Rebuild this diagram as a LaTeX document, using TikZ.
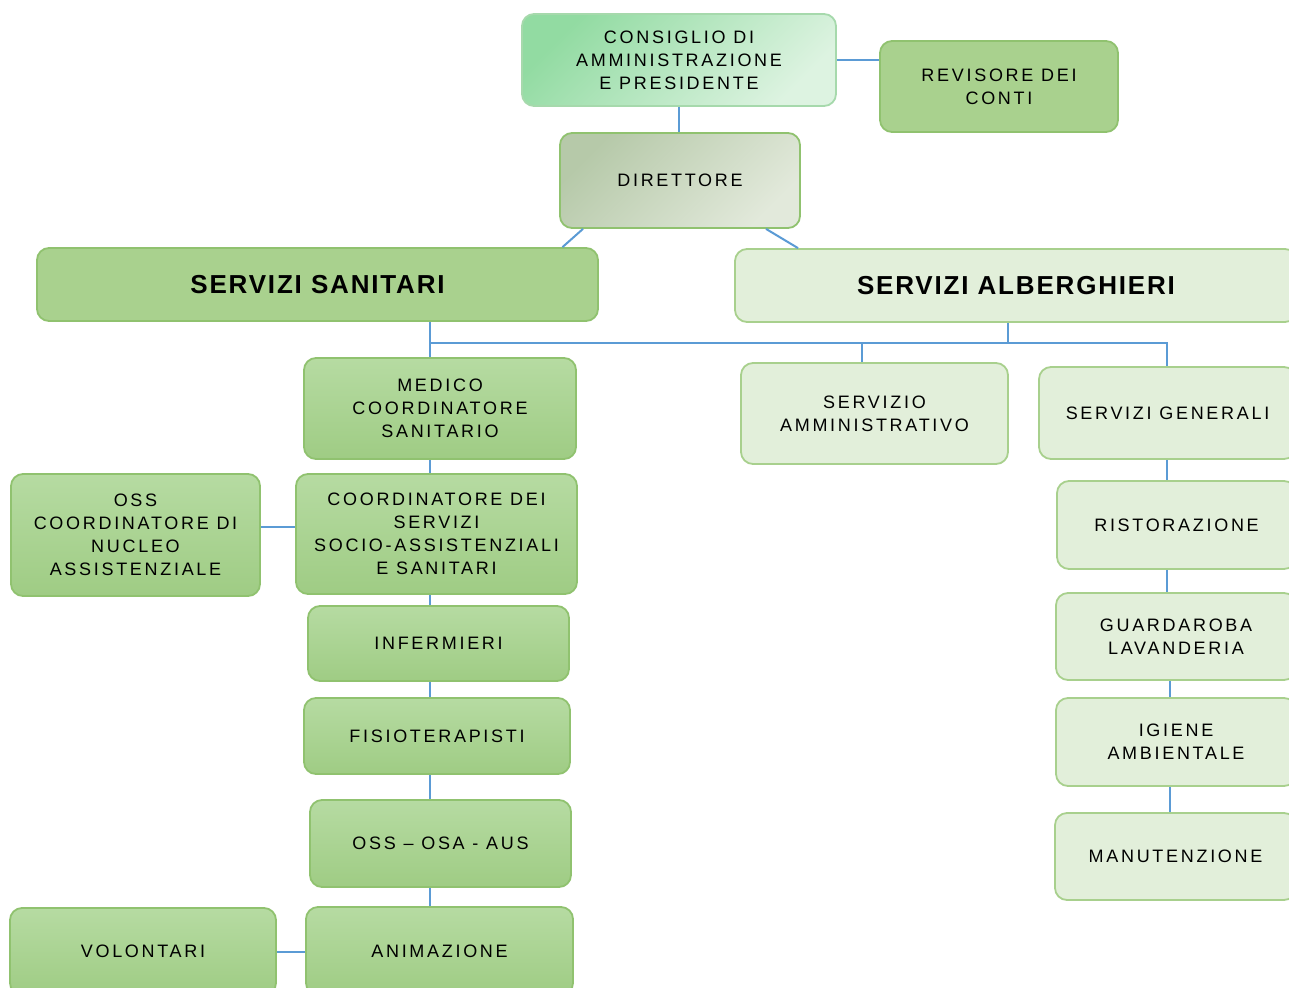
\documentclass[tikz,border=0pt]{standalone}
\usepackage{fontspec}
\setmainfont{Liberation Sans}
\newfontfamily\boxfont[LetterSpace=15]{Liberation Sans}
\newfontfamily\titlefont[LetterSpace=7]{Liberation Sans}
\definecolor{midg}{HTML}{A9D18E}
\definecolor{bord}{HTML}{90C26F}
\definecolor{medtop}{HTML}{B6DBA2}
\definecolor{medbot}{HTML}{9FCC84}
\definecolor{lightg}{HTML}{E2EFDA}
\definecolor{lightbord}{HTML}{A8D08D}
\definecolor{constop}{HTML}{92DBA2}
\definecolor{consbot}{HTML}{DDF3E1}
\definecolor{consbord}{HTML}{A6D9AC}
\definecolor{dirtop}{HTML}{B6C9A9}
\definecolor{dirbot}{HTML}{E2E9DB}
\definecolor{conblue}{HTML}{5B9BD5}
\tikzset{
  box/.style={draw=bord, line width=1.8pt, rounded corners=12pt, align=center,
    inner sep=0pt, font=\boxfont\fontsize{18}{23}\selectfont},
  midbox/.style={box, fill=midg},
  medbox/.style={box, top color=medtop, bottom color=medbot},
  lightbox/.style={box, fill=lightg, draw=lightbord},
  titlebox/.style={font=\titlefont\bfseries\fontsize{26}{30}\selectfont},
  conn/.style={draw=conblue, line width=2pt},
}
\begin{document}
\begin{tikzpicture}[x=1pt,y=-1pt]
\clip (0,0) rectangle (1289,987);
\fill[white] (0,0) rectangle (1289,987);
% top
\node[box, draw=consbord, top color=constop, bottom color=consbot, shading angle=45,
  minimum width=314pt, minimum height=92pt] (cons) at (679,60)
  {CONSIGLIO DI\\AMMINISTRAZIONE\\E PRESIDENTE};
\node[midbox, minimum width=238pt, minimum height=91pt] (rev) at (999,86.5)
  {REVISORE DEI\\CONTI};
\node[box, top color=dirtop, bottom color=dirbot, shading angle=45,
  minimum width=240pt, minimum height=95pt] (dir) at (680,180.5) {DIRETTORE};
\node[midbox, titlebox, minimum width=561pt, minimum height=73pt] (san) at (317.5,284.5)
  {SERVIZI SANITARI};
\node[lightbox, titlebox, minimum width=562pt, minimum height=73pt] (alb) at (1016,285.5)
  {SERVIZI ALBERGHIERI};
% left column
\node[medbox, minimum width=272pt, minimum height=101pt] (med) at (440,408.5)
  {MEDICO\\COORDINATORE\\SANITARIO};
\node[medbox, minimum width=281pt, minimum height=120pt] (coord) at (436.5,534)
  {COORDINATORE DEI\\SERVIZI\\SOCIO-ASSISTENZIALI\\E SANITARI};
\node[medbox, minimum width=249pt, minimum height=122pt] (osscoord) at (135.5,535)
  {OSS\\COORDINATORE DI\\NUCLEO\\ASSISTENZIALE};
\node[medbox, minimum width=261pt, minimum height=75pt] (inf) at (438.5,643.5)
  {INFERMIERI};
\node[medbox, minimum width=266pt, minimum height=76pt] (fis) at (437,736)
  {FISIOTERAPISTI};
\node[medbox, minimum width=261pt, minimum height=87pt] (oss) at (440.5,843.5)
  {OSS – OSA - AUS};
\node[medbox, minimum width=267pt, minimum height=88pt] (anim) at (439.5,951)
  {ANIMAZIONE};
\node[medbox, minimum width=266pt, minimum height=87pt] (vol) at (143,951.5)
  {VOLONTARI};
% right column
\node[lightbox, minimum width=267pt, minimum height=101pt] (samm) at (874.5,413.5)
  {SERVIZIO\\AMMINISTRATIVO};
\node[lightbox, minimum width=257pt, minimum height=92pt] (sg) at (1167.5,413)
  {SERVIZI GENERALI};
\node[lightbox, minimum width=239pt, minimum height=88pt] (rist) at (1176.5,525)
  {RISTORAZIONE};
\node[lightbox, minimum width=240pt, minimum height=87pt] (guard) at (1176,636.5)
  {GUARDAROBA\\LAVANDERIA};
\node[lightbox, minimum width=240pt, minimum height=88pt] (ig) at (1176,742)
  {IGIENE\\AMBIENTALE};
\node[lightbox, minimum width=241pt, minimum height=87pt] (man) at (1175.5,856.5)
  {MANUTENZIONE};
% bus coordinates
\coordinate (busL) at (430,343);
\coordinate (busR) at (1167,343);
\coordinate (busA) at (1008,343);
\coordinate (busS) at (862,343);
\coordinate (colR) at (1170,343);
\coordinate (volY) at (0,952);
% connectors
\draw[conn] (cons.east) -- (cons.east -| rev.west);
\draw[conn] (cons.south) -- (cons.south |- dir.north);
\draw[conn] ([xshift=-97pt]dir.south) -- ([xshift=245pt]san.north);
\draw[conn] ([xshift=86pt]dir.south) -- ([xshift=-218pt]alb.north);
\draw[conn] (busL |- san.south) -- (busL |- med.north);
\draw[conn] (busL) -- (busR) -- (busR |- sg.north);
\draw[conn] (busA |- alb.south) -- (busA);
\draw[conn] (busS) -- (busS |- samm.north);
\draw[conn] (busL |- med.south) -- (busL |- coord.north);
\draw[conn] ([yshift=8pt]osscoord.east) -- ([yshift=8pt]osscoord.east -| coord.west);
\draw[conn] (busL |- coord.south) -- (busL |- inf.north);
\draw[conn] (busL |- inf.south) -- (busL |- fis.north);
\draw[conn] (busL |- fis.south) -- (busL |- oss.north);
\draw[conn] (busL |- oss.south) -- (busL |- anim.north);
\draw[conn] (vol.east |- volY) -- (anim.west |- volY);
\draw[conn] (busR |- sg.south) -- (busR |- rist.north);
\draw[conn] (busR |- rist.south) -- (busR |- guard.north);
\draw[conn] (colR |- guard.south) -- (colR |- ig.north);
\draw[conn] (colR |- ig.south) -- (colR |- man.north);
\end{tikzpicture}
\end{document}
